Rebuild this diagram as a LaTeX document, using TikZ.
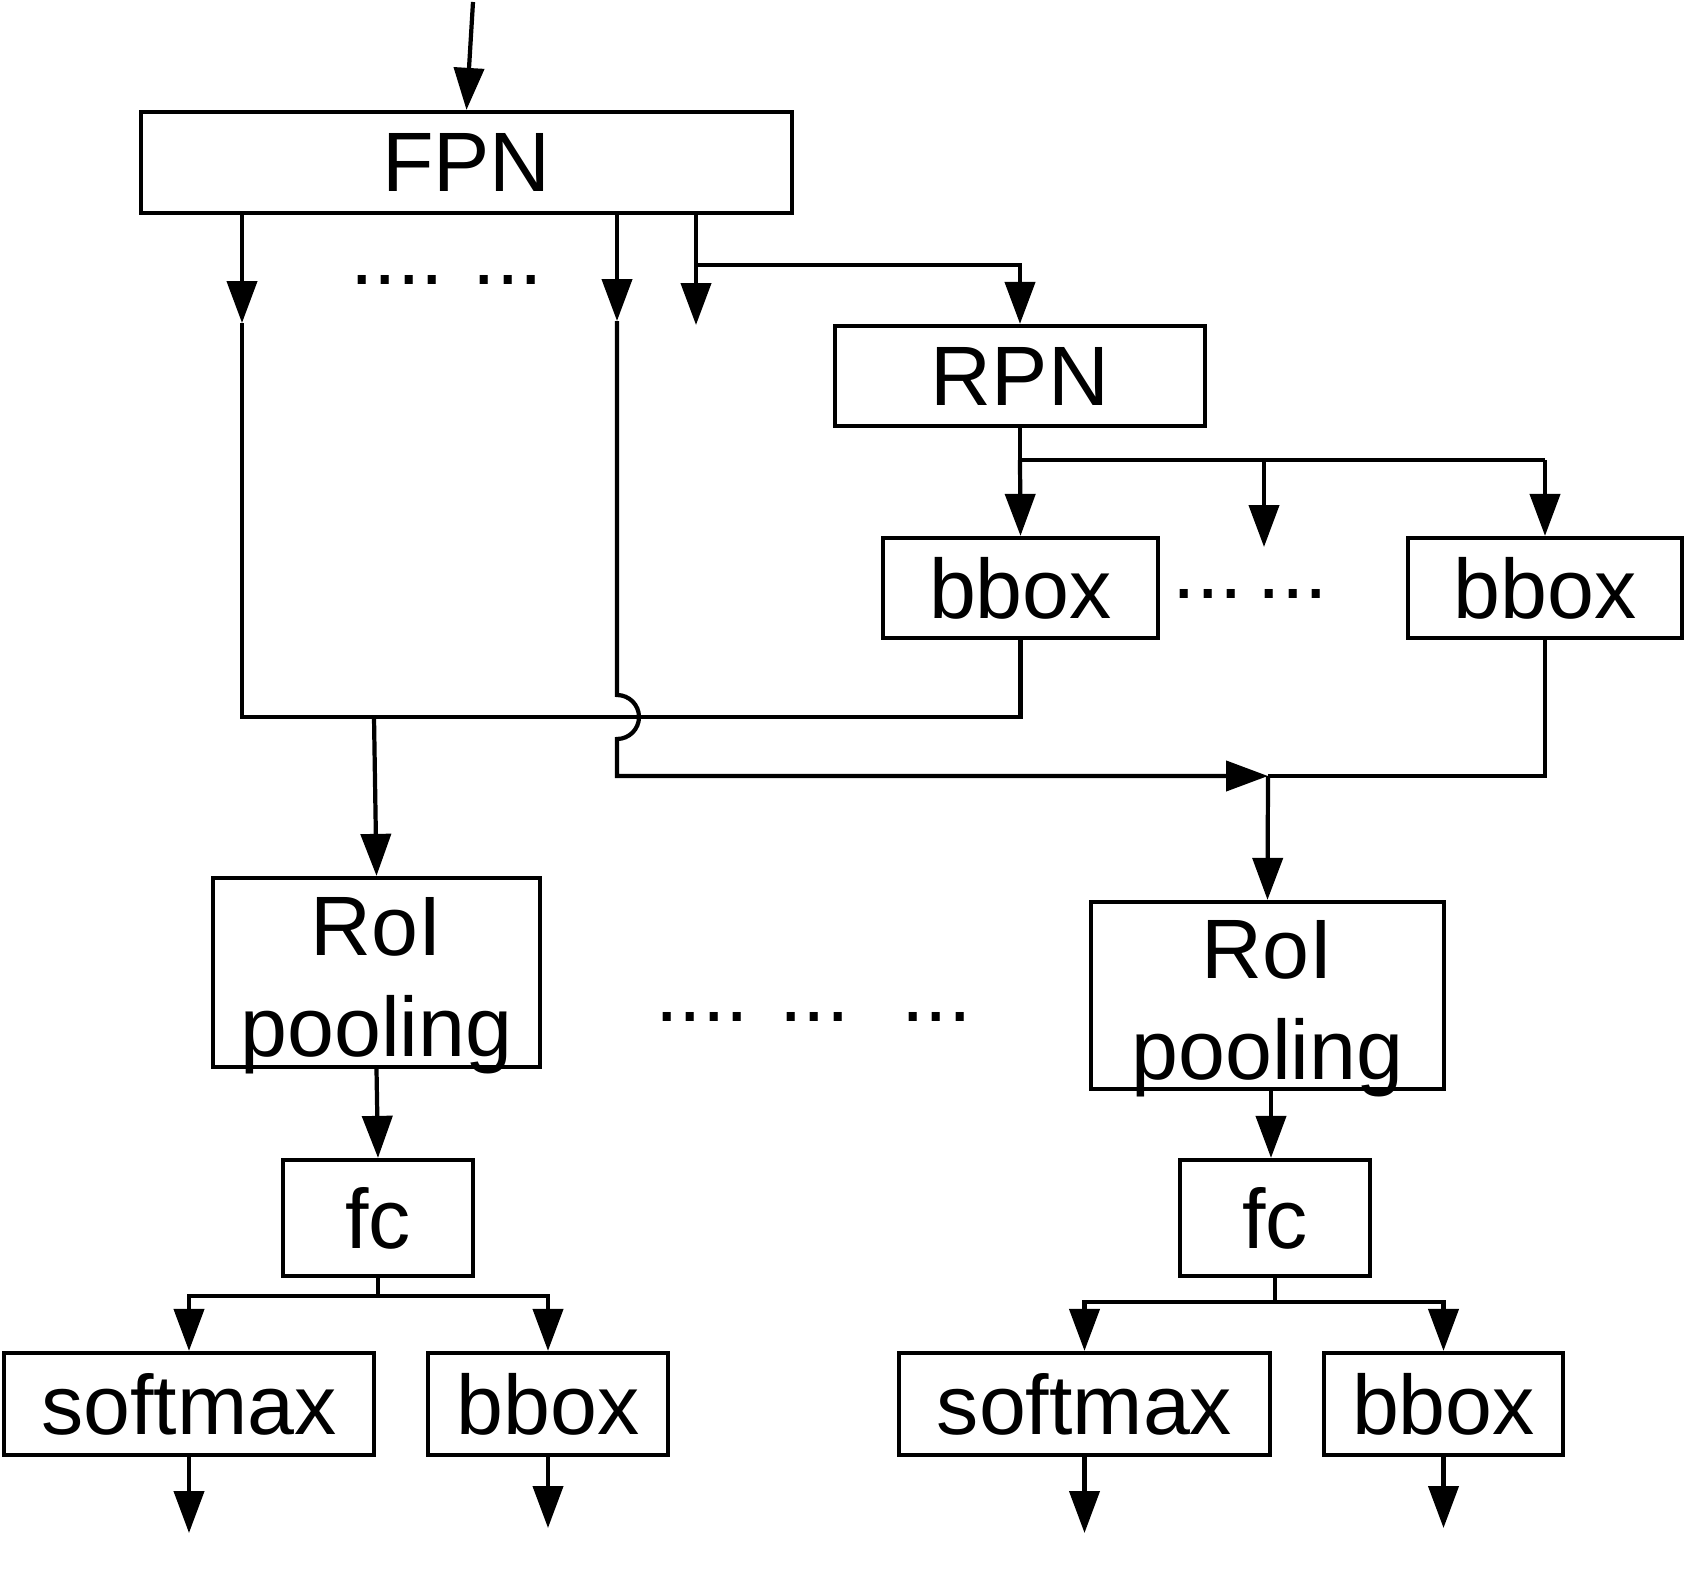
\documentclass[tikz,border=0pt]{standalone}
\usepackage{fontspec}
\setmainfont{Liberation Sans}
\usetikzlibrary{arrows.meta,positioning}

\begin{document}
\begin{tikzpicture}[
        x=0.1mm, y=-0.1mm,
        blk/.style={draw, line width=1.2pt, inner sep=0pt, align=center, font=\fontsize{24}{29}\selectfont},
        dts/.style={inner sep=0pt, font=\fontsize{24}{29}\selectfont},
        ln/.style={line width=1.2pt},
        ar/.style={-{Triangle[length=4.2mm, width=3mm]}, line width=1.2pt}
    ]
        \useasboundingbox (0,0) rectangle (1687,1595);
        % boxes
        \node (FPN) [blk, minimum width=65.1mm, minimum height=10.1mm] at (466.5,162.5) {FPN};
        \node (RPN) [blk, minimum width=37mm, minimum height=10mm] at (1020,376) {RPN};
        \node (bb1) [blk, minimum width=27.5mm, minimum height=10mm] at (1020.5,588) {bbox};
        \node (bb2) [blk, minimum width=27.4mm, minimum height=10mm] at (1545,588) {bbox};
        \node (RoI1) [blk, minimum width=32.7mm, minimum height=18.9mm] at (376.5,972.5) {\rule{0pt}{6.7mm}RoI\\\smash{pooling}};
        \node (RoI2) [blk, minimum width=35.3mm, minimum height=18.7mm] at (1267.5,995.5) {\rule{0pt}{6.7mm}RoI\\\smash{pooling}};
        \node (fc1) [blk, minimum width=19mm, minimum height=11.6mm] at (378,1218) {fc};
        \node (fc2) [blk, minimum width=19mm, minimum height=11.6mm] at (1275,1218) {fc};
        \node (sm1) [blk, minimum width=37mm, minimum height=10.2mm] at (189,1404) {softmax};
        \node (bx1) [blk, minimum width=24mm, minimum height=10.2mm] at (548,1404) {bbox};
        \node (sm2) [blk, minimum width=37.1mm, minimum height=10.2mm] at (1084.5,1404) {softmax};
        \node (bx2) [blk, minimum width=23.9mm, minimum height=10.2mm] at (1443.5,1404) {bbox};
        % dots
        \node (d1) [dts] at (397,280) {....};
        \node (d2) [dts] at (508,280) {...};
        \node (d3) [dts] at (1208,594) {...};
        \node (d4) [dts] at (1293,594) {...};
        \node (d5) [dts] at (702,1017) {....};
        \node (d6) [dts] at (814.5,1017) {...};
        \node (d7) [dts] at (936.5,1017) {...};
        % junctions
        \coordinate (in) at (473,2);
        \coordinate (f1) at (242,323);
        \coordinate (f2) at (617,321);
        \coordinate (f3) at (696,325);
        \coordinate (br) at (696,265);
        \coordinate (rs) at (1020,460);
        \coordinate (rm) at (1264,547);
        \coordinate (h1) at (242,717);
        \coordinate (r1) at (374,717);
        \coordinate (cr) at (1268,776);
        \coordinate (t2) at (1271,0);
        \coordinate (s1) at (378,1296);
        \coordinate (s2) at (1275,1302);
        \coordinate (o1) at (189,1533);
        \coordinate (o2) at (548,1528);
        \coordinate (o3) at (1084.5,1533);
        \coordinate (o4) at (1443.5,1528);
        % FPN
        \draw[ar] (in) -- (FPN.north);
        \draw[ar] (FPN.south -| f1) -- (f1);
        \draw[ar] (FPN.south -| f2) -- (f2);
        \draw[ar] (FPN.south -| f3) -- (f3);
        \draw[ar] (br) -| (RPN.north);
        % RPN
        \draw[ln] (RPN.south) -- (rs) -- (rs -| bb2.north);
        \draw[ar] (rs) -- (bb1.north);
        \draw[ar] (rs -| rm) -- (rm);
        \draw[ar] (rs -| bb2.north) -- (bb2.north);
        % proposals to RoI pooling
        \draw[ln] (f1) -- (h1) -| (bb1.south);
        \draw[ar] (r1) -- (RoI1.north);
        \draw[ar] (f2) -- (617,695) arc[start angle=-90, end angle=90, radius=22] -- (617,776) -- (cr);
        \draw[ln] (bb2.south) |- (cr);
        \draw[ar] (cr) -- (RoI2.north);
        % heads
        \draw[ar] (RoI1.south) -- (fc1.north);
        \draw[ar] (RoI2.south -| t2) -- (fc2.north -| t2);
        \draw[ln] (fc1.south) -- (s1);
        \draw[ar] (s1) -| (sm1.north);
        \draw[ar] (s1) -| (bx1.north);
        \draw[ln] (fc2.south) -- (s2);
        \draw[ar] (s2) -| (sm2.north);
        \draw[ar] (s2) -| (bx2.north);
        \draw[ar] (sm1.south) -- (o1);
        \draw[ar] (bx1.south) -- (o2);
        \draw[ar] (sm2.south) -- (o3);
        \draw[ar] (bx2.south) -- (o4);
    \end{tikzpicture}
\end{document}
